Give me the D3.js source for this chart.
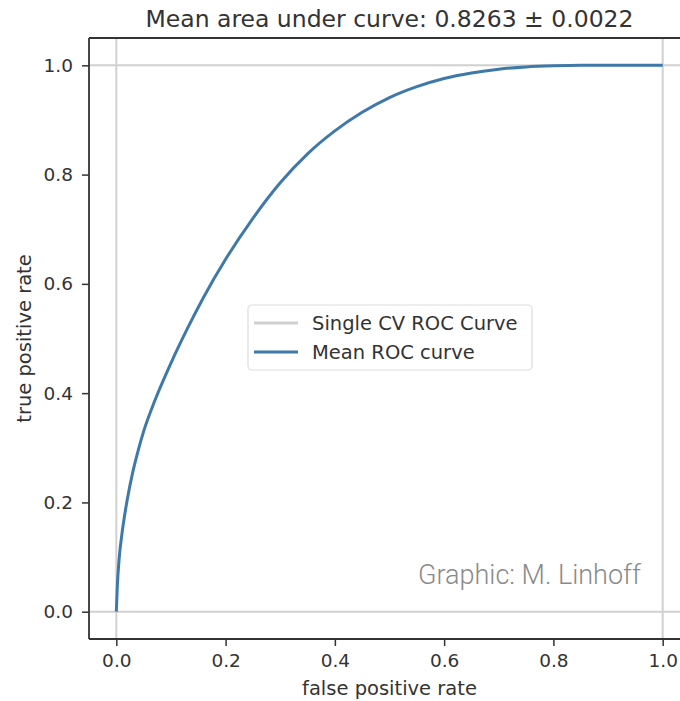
<!DOCTYPE html>
<html>
<head>
<meta charset="utf-8">
<script src="https://cdn.jsdelivr.net/npm/d3@7/dist/d3.min.js"></script>
<style>
  html, body { margin: 0; padding: 0; background: #fff; }
  svg { display: block; }
</style>
</head>
<body>
<svg id="chart" width="680" height="701"></svg>
<script>
// ---- data ----
const fpr = [0, 0.002, 0.005, 0.01, 0.02, 0.03, 0.04, 0.05, 0.07, 0.10, 0.13, 0.16, 0.20, 0.25, 0.30, 0.35, 0.40, 0.45, 0.50, 0.55, 0.60, 0.65, 0.70, 0.75, 0.80, 0.85, 0.90, 1.0];
const meanTpr = [0, 0.05, 0.095, 0.14, 0.205, 0.255, 0.295, 0.330, 0.385, 0.455, 0.518, 0.576, 0.645, 0.720, 0.785, 0.838, 0.880, 0.914, 0.941, 0.961, 0.976, 0.986, 0.993, 0.997, 0.999, 1.0, 1.0, 1.0];
const xTicks = [0.0, 0.2, 0.4, 0.6, 0.8, 1.0];
const yTicks = [0.0, 0.2, 0.4, 0.6, 0.8, 1.0];
const refLines = [0, 1];
const legendLabels = ["Single CV ROC Curve", "Mean ROC curve"];
const titleText = "Mean area under curve: 0.8263 \u00b1 0.0022";
const xLabel = "false positive rate";
const yLabel = "true positive rate";
const creditText = "Graphic: M. Linhoff";

// ---- layout ----
const svg = d3.select("#chart");
const L = 89, R = 690, T = 38, B = 639;
const x = d3.scaleLinear().domain([-0.05, 1.05]).range([L, R]);
const y = d3.scaleLinear().domain([-0.05, 1.05]).range([B, T]);
const blue = "#3f79a9";
const grey = "#d0d0d0";
const textCol = "#333";
const font = "DejaVu Sans, sans-serif";

// reference lines at 0 and 1
const g = svg.append("g");
g.selectAll("line.vref").data(refLines).join("line")
  .attr("x1", d => x(d)).attr("x2", d => x(d))
  .attr("y1", T).attr("y2", B)
  .attr("stroke", grey).attr("stroke-width", 2);
g.selectAll("line.href").data(refLines).join("line")
  .attr("y1", d => y(d)).attr("y2", d => y(d))
  .attr("x1", L).attr("x2", R)
  .attr("stroke", grey).attr("stroke-width", 2);

// mean ROC curve
const line = d3.line().x((d, i) => x(fpr[i])).y(d => y(d)).curve(d3.curveMonotoneX);
g.append("path").datum(meanTpr)
  .attr("d", line)
  .attr("fill", "none")
  .attr("stroke", blue)
  .attr("stroke-width", 3);

// axes
const xAxis = d3.axisBottom(x).tickValues(xTicks).tickFormat(d3.format(".1f")).tickSize(7).tickPadding(8);
const yAxis = d3.axisLeft(y).tickValues(yTicks).tickFormat(d3.format(".1f")).tickSize(7).tickPadding(9);
const gx = svg.append("g").attr("transform", `translate(0,${B})`).call(xAxis);
const gy = svg.append("g").attr("transform", `translate(${L},0)`).call(yAxis);
[gx, gy].forEach(a => {
  a.select(".domain").remove();
  a.selectAll(".tick line").attr("stroke", textCol).attr("stroke-width", 1.5);
  a.selectAll(".tick text").attr("fill", textCol).attr("font-family", font).attr("font-size", 18.5);
});

// spines (left, top, bottom)
svg.append("line").attr("x1", L).attr("x2", L).attr("y1", T).attr("y2", B).attr("stroke", textCol).attr("stroke-width", 1.8);
svg.append("line").attr("x1", L).attr("x2", R).attr("y1", T).attr("y2", T).attr("stroke", textCol).attr("stroke-width", 1.8);
svg.append("line").attr("x1", L).attr("x2", R).attr("y1", B).attr("y2", B).attr("stroke", textCol).attr("stroke-width", 1.8);

// title
svg.append("text").attr("x", (L + R) / 2).attr("y", 27).attr("text-anchor", "middle")
  .attr("font-family", font).attr("font-size", 23.5).attr("fill", textCol).text(titleText);

// axis labels
svg.append("text").attr("x", (L + R) / 2).attr("y", 695).attr("text-anchor", "middle")
  .attr("font-family", font).attr("font-size", 19.5).attr("fill", textCol).text(xLabel);
svg.append("text").attr("transform", `translate(31,${(T + B) / 2}) rotate(-90)`).attr("text-anchor", "middle")
  .attr("font-family", font).attr("font-size", 19.5).attr("fill", textCol).text(yLabel);

// legend
const lg = svg.append("g").attr("transform", "translate(248,305)");
lg.append("rect").attr("width", 284).attr("height", 65).attr("rx", 4)
  .attr("fill", "#fff").attr("fill-opacity", 0.85).attr("stroke", "#ddd").attr("stroke-width", 1.2);
const legendColors = [grey, blue];
lg.selectAll("g.item").data(legendLabels).join("g")
  .attr("transform", (d, i) => `translate(0,${18 + i * 29})`)
  .each(function (d, i) {
    const it = d3.select(this);
    it.append("line").attr("x1", 6).attr("x2", 50).attr("y1", 0).attr("y2", 0)
      .attr("stroke", legendColors[i]).attr("stroke-width", 3);
    it.append("text").attr("x", 64).attr("y", 7).attr("font-family", font).attr("font-size", 19.5)
      .attr("fill", textCol).text(d);
  });

// credit
svg.append("text").attr("x", 641).attr("y", 584).attr("text-anchor", "end")
  .attr("font-family", "Roboto, sans-serif").attr("font-weight", 300).attr("font-size", 27)
  .attr("fill", "#8a8a8a").text(creditText);
</script>
</body>
</html>
